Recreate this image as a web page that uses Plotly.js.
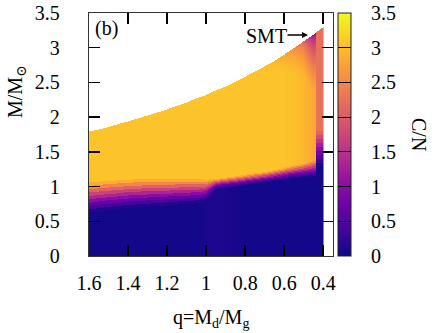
<!DOCTYPE html>
<html><head><meta charset="utf-8">
<script src="https://cdn.plot.ly/plotly-3.0.1.min.js"></script>
<style>html,body{margin:0;padding:0;background:#fff}#chart{width:436px;height:333px}</style>
</head><body><div id="chart"></div>
<script>
// ---- values (per q knot) ----
const qKnots    = [1.60,1.55,1.50,1.45,1.40,1.35,1.30,1.25,1.20,1.15,1.10,1.05,1.00,0.95,0.90,0.85,0.80,0.75,0.70,0.65,0.60,0.55,0.50,0.45,0.40];
const mTop      = [1.79,1.82,1.86,1.90,1.94,1.98,2.02,2.07,2.11,2.16,2.21,2.27,2.32,2.38,2.44,2.51,2.58,2.65,2.73,2.81,2.90,2.99,3.09,3.19,3.30];
const mRampLow  = [0.62,0.64,0.66,0.675,0.69,0.70,0.71,0.72,0.73,0.74,0.75,0.76,0.80,0.97,0.99,1.00,1.02,1.04,1.06,1.08,1.10,1.12,1.13,1.14,1.14];
const mRampHigh = [1.06,1.07,1.08,1.09,1.10,1.105,1.11,1.11,1.11,1.11,1.11,1.11,1.10,1.11,1.13,1.15,1.17,1.19,1.21,1.24,1.27,1.30,1.33,1.37,1.40];
const bulkVal   = [3.05,3.05,3.05,3.05,3.05,3.05,3.05,3.05,3.05,3.05,3.05,3.05,3.05,3.05,3.05,3.05,3.05,3.05,3.05,3.05,3.05,3.02,2.95,2.80,2.80];
const edgeVal   = [3.05,3.05,3.05,3.05,3.05,3.05,3.05,3.05,3.05,3.05,3.05,3.05,3.05,3.05,3.05,3.05,3.05,3.05,3.05,2.90,2.75,2.50,2.00,0.90,0.90];
const edgeDepth = [0.10,0.10,0.10,0.10,0.10,0.10,0.10,0.10,0.10,0.10,0.10,0.10,0.10,0.10,0.10,0.10,0.10,0.10,0.10,0.15,0.25,0.35,0.50,0.80,0.80];
const darkVal   = [0.04,0.04,0.04,0.04,0.04,0.04,0.04,0.04,0.04,0.04,0.04,0.04,0.09,0.12,0.10,0.07,0.04,0.04,0.04,0.04,0.04,0.04,0.04,0.04,0.04];
// SMT strip near q ~ 0.4
const stripEdgeQ = 0.4375;
const stripVal   = 2.25;
const stripLow   = 1.28;
const stripHigh  = 1.80;
// ticks
const xTickVals = [1.6,1.4,1.2,1,0.8,0.6,0.4];
const xTickText = ['1.6','1.4','1.2','1','0.8','0.6','0.4'];
const yTickVals = [0,0.5,1,1.5,2,2.5,3,3.5];
const yTickText = ['0','0.5','1','1.5','2','2.5','3','3.5'];
const cbTickVals = [0,0.5,1,1.5,2,2.5,3,3.5];
const cbTickText = ['0','0.5','1','1.5','2','2.5','3','3.5'];

// ---- grid built from the arrays above ----
function at(q, arr){
  for (let i=0;i<qKnots.length-1;i++){
    const a=qKnots[i], b=qKnots[i+1];
    if (q<=a+1e-9 && q>=b-1e-9){ const f=(a-q)/(a-b); return arr[i]+(arr[i+1]-arr[i])*f; }
  }
  return q>qKnots[0]?arr[0]:arr[arr.length-1];
}
const gridQ=[]; for(let k=0;k<=240;k++) gridQ.push(+(1.600-0.005*k).toFixed(3));
const gridM=[]; for(let k=0;k<700;k++) gridM.push(+(0.0025+0.005*k).toFixed(4));
const nSteps=9;
function ramp(t){ const tq=(Math.floor(t*nSteps)+0.5)/nSteps; return Math.pow(tq,1.2); }
const z=gridM.map(M=>gridQ.map(q=>{
  const top=at(q,mTop);
  if (M>top) return null;
  const dk=at(q,darkVal);
  if (q<stripEdgeQ){
    if (M<=stripLow) return dk;
    if (M>=stripHigh) return stripVal;
    return dk+(stripVal-dk)*ramp((M-stripLow)/(stripHigh-stripLow));
  }
  const lo=at(q,mRampLow), hi=at(q,mRampHigh), bulk=at(q,bulkVal);
  let v;
  if (M<=lo) v=dk;
  else if (M>=hi) v=bulk;
  else v=dk+(bulk-dk)*ramp((M-lo)/(hi-lo));
  const d=top-M, ed=at(q,edgeDepth), ev=at(q,edgeVal);
  if (d<ed && M>hi){ const e=ev+(bulk-ev)*Math.sqrt(d/ed); v=Math.min(v,e); }
  return v;
}));

const plasma=[[0,'#0d0887'],[0.1,'#41049d'],[0.2,'#6a00a8'],[0.3,'#8f0da4'],[0.4,'#b12a90'],[0.5,'#cc4778'],[0.6,'#e16462'],[0.7,'#f2844b'],[0.8,'#fca636'],[0.9,'#fcce25'],[1,'#f0f921']];
const FONT='Liberation Serif, DejaVu Serif, serif';
const NB='\u00a0\u00a0\u00a0';

const trace={type:'heatmap',x:gridQ,y:gridM,z:z,zmin:0,zmax:3.5,colorscale:plasma,zsmooth:false,hoverinfo:'skip',
  colorbar:{x:(338-89)/244,xanchor:'left',xpad:0,ypad:0,y:0.5,yanchor:'middle',len:1,lenmode:'fraction',thickness:13,
    outlinewidth:1,outlinecolor:'#222',ticks:'inside',ticklen:13,tickwidth:1,tickcolor:'#000',
    tickvals:cbTickVals,ticktext:cbTickText.map(s=>NB+s),tickfont:{family:FONT,size:20,color:'#000'}}};

const px=(p)=>(p-89)/244, py=(p)=>(256-p)/243;
const layout={width:436,height:333,margin:{l:89,r:103,t:13,b:77},paper_bgcolor:'#fff',plot_bgcolor:'#fff',showlegend:false,
  font:{family:FONT,size:20,color:'#000'},
  xaxis:{range:[1.6,0.35],tickvals:xTickVals,ticktext:xTickText,ticks:'inside',ticklen:11,tickwidth:1.5,tickcolor:'#000',
    showline:true,mirror:'ticks',linecolor:'#333',linewidth:1.2,showgrid:false,zeroline:false,ticklabelstandoff:9,
    tickfont:{family:FONT,size:20,color:'#000'}},
  yaxis:{range:[0,3.5],tickvals:yTickVals,ticktext:yTickText,ticks:'inside',ticklen:11,tickwidth:1.5,tickcolor:'#000',
    showline:true,mirror:'ticks',linecolor:'#333',linewidth:1.2,showgrid:false,zeroline:false,ticklabelstandoff:24,
    tickfont:{family:FONT,size:20,color:'#000'}},
  annotations:[
    {xref:'paper',yref:'paper',x:0.5,y:py(318),text:'q=M<sub>d</sub>/M<sub>g</sub>',showarrow:false,xanchor:'center',yanchor:'middle',font:{family:FONT,size:20}},
    {xref:'paper',yref:'paper',x:px(17),y:py(92),text:'M/M<sub>⊙</sub>',textangle:-90,showarrow:false,xanchor:'center',yanchor:'middle',font:{family:FONT,size:20}},
    {xref:'paper',yref:'paper',x:px(419),y:py(134),text:'C/N',textangle:90,showarrow:false,xanchor:'center',yanchor:'middle',font:{family:FONT,size:20}},
    {xref:'paper',yref:'paper',x:px(93),y:py(28),text:'(b)',showarrow:false,xanchor:'left',yanchor:'middle',font:{family:FONT,size:20}},
    {xref:'paper',yref:'paper',x:px(266),y:py(36),text:'SMT',showarrow:false,xanchor:'center',yanchor:'middle',font:{family:FONT,size:20}},
    {xref:'paper',yref:'paper',axref:'pixel',ayref:'pixel',x:px(308),y:py(35),ax:-22,ay:0,text:'',showarrow:true,arrowhead:2,arrowsize:0.8,arrowwidth:1.5,arrowcolor:'#000'}
  ]};
Plotly.newPlot('chart',[trace],layout,{displayModeBar:false,staticPlot:true});
</script></body></html>
